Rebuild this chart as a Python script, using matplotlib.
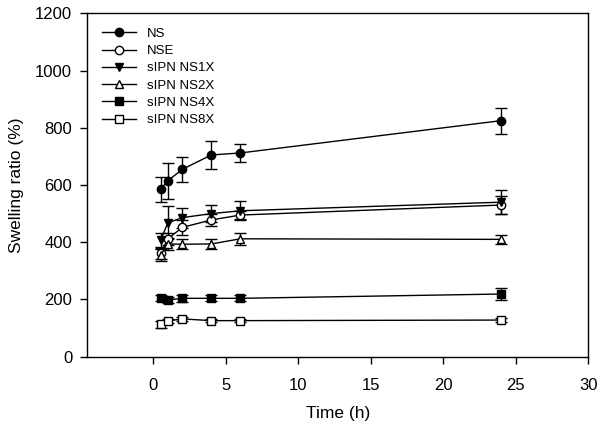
import numpy as np
from matplotlib import pyplot as plt

plt.rcParams['font.family'] = ['Liberation Sans', 'DejaVu Sans']

# time points (h)
time = [0.5, 1, 2, 4, 6, 24]

# swelling ratio (%) and error per sample
ns = [585, 615, 655, 705, 712, 825]
ns_err = [43, 63, 43, 48, 30, 45]
nse = [361, 412, 452, 478, 495, 530]
nse_err = [20, 20, 25, 20, 15, 30]
s1x = [408, 468, 486, 500, 510, 540]
s1x_err = [25, 57, 35, 31, 33, 42]
s2x = [355, 394, 393, 394, 412, 410]
s2x_err = [20, 20, 18, 18, 20, 15]
s4x = [204, 198, 204, 204, 204, 219]
s4x_err = [10, 10, 12, 10, 10, 20]
s8x = [113, 125, 132, 126, 126, 128]
s8x_err = [12, 8, 8, 6, 6, 8]

labels = ['NS', 'NSE', 'sIPN NS1X', 'sIPN NS2X', 'sIPN NS4X', 'sIPN NS8X']
markers = ['o', 'o', 'v', '^', 's', 's']
faces = ['black', 'white', 'black', 'white', 'black', 'white']
series = [ns, nse, s1x, s2x, s4x, s8x]
errors = [ns_err, nse_err, s1x_err, s2x_err, s4x_err, s8x_err]

fig = plt.figure(figsize=(6.03, 4.30), dpi=100)
ax = fig.add_axes([0.145, 0.1705, 0.8306, 0.7985])

handles = []
for y, e, m, fc, lab in zip(series, errors, markers, faces, labels):
    c = ax.errorbar(time, y, yerr=e, fmt='-', color='black', lw=1,
                    marker=m, markersize=6, markerfacecolor=fc,
                    markeredgecolor='black', mew=1,
                    ecolor='black', elinewidth=1, capsize=4.5, capthick=1)
    handles.append(c.lines[0])  # line + marker only for the legend

ax.set_xlim(-4.55, 30)
ax.set_ylim(0, 1200)
ax.set_xticks([0, 5, 10, 15, 20, 25, 30])
ax.set_yticks([0, 200, 400, 600, 800, 1000, 1200])
ax.tick_params(direction='out', length=5, width=1, labelsize=12, pad=6)
ax.tick_params(axis='x', pad=10)
for s in ax.spines.values():
    s.set_linewidth(1)

ax.set_xlabel('Time (h)', fontsize=12.5, labelpad=10)
ax.set_ylabel('Swelling ratio (%)', fontsize=12.5, labelpad=8)

ax.legend(handles, labels, loc='upper left', frameon=False, fontsize=9.5,
          handlelength=2.6, handletextpad=0.8, labelspacing=0.38,
          borderaxespad=0.3, bbox_to_anchor=(0.01, 0.985))

plt.savefig('out.png', dpi=100)
